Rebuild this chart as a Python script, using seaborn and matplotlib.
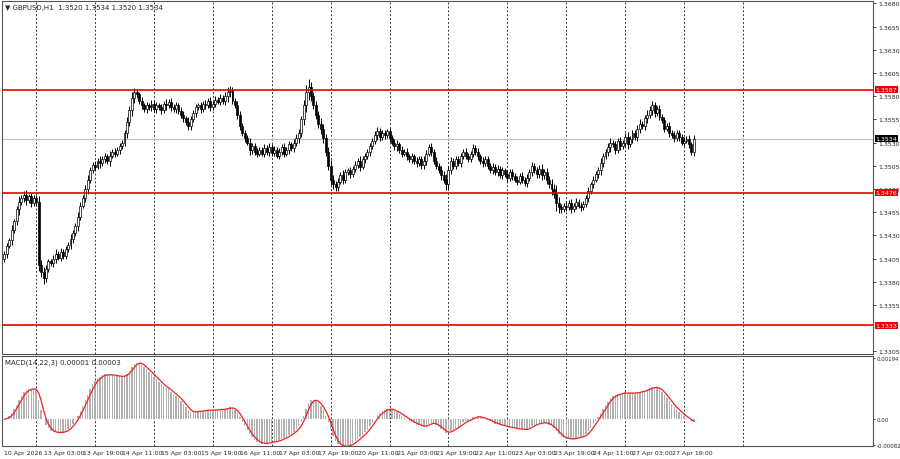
import numpy as np
import pandas as pd
import matplotlib
matplotlib.use("Agg")
import matplotlib.pyplot as plt
import seaborn as sns

sns.set_style("white")
plt.rcParams['font.family'] = ['DejaVu Sans']

# closes in pips (1.xxxx), hourly bars from 10 Apr 2026 11:00
closes = [3410,3418,3425,3436,3445,3458,3466,3470,3474,3468,3472,3465,3470,3466,
          3398,3390,3384,3394,3402,
          3400,3405,3410,3406,3412,3408,3415,3420,3426,
          3432,3440,3450,3462,3470,3480,3490,3500,
          3506,3504,3510,3508,3512,3515,3510,3516,3520,3518,3522,3526,3530,
          3540,3552,3565,3578,3584,3582,3575,3570,
          3566,3570,3568,3572,3566,3570,3568,3565,3572,3570,3574,3568,3566,3570,3564,3560,
          3556,3552,3548,3555,3562,3568,3570,3566,
          3572,3570,3575,3568,3572,3576,3574,3578,3575,3580,3584,
          3586,3575,3570,3560,3548,3540,3535,3530,3522,3526,3520,3518,3522,
          3518,3524,3520,3525,3519,3522,3516,3520,3525,3518,3522,3528,3524,3530,
          3535,3540,3555,3570,3585,3590,3580,3570,
          3560,3550,3545,3535,3520,3505,3490,3485,3482,
          3488,3495,3490,3498,3500,3496,3502,3506,3510,3504,3512,3515,3520,3526,3532,
          3538,3542,3536,3540,3538,3542,3535,3530,3526,3528,3522,3518,3520,3515,
          3512,3515,3510,3508,3512,3506,3510,3518,3525,3520,3510,3505,3500,3495,
          3490,3485,3500,3510,3505,3512,3508,3515,3520,3516,3512,
          3518,3524,3520,3515,3510,3508,3512,3505,3500,3504,3498,3502,3495,3500,
          3496,3492,3498,3494,3490,3488,3494,3490,3486,3492,3498,3505,3500,3496,
          3502,3495,3498,3490,3485,3480,3475,3465,3460,
          3458,3462,3460,3465,3458,3462,3466,3462,3460,3464,3470,
          3478,3485,3490,3496,3500,3508,3515,3520,3525,3530,3528,3522,3532,
          3526,3530,3536,3528,3534,3540,3536,3545,3550,3548,3556,3560,
          3565,3570,3562,3566,3558,3554,3545,3548,
          3540,3538,3535,3540,3536,3530,3532,3534,3528,3520,3534]
# wick sizes in pips
wicks = [3,4,2,5,3,4,6,3,4,5,3,4,3,4, 6,5,6,4,3, 3,4,5,3,4,3,4,3,5,
         4,3,5,4,3,4,5,4, 3,4,3,5,3,4,3,5,3,4,3,4,3, 4,5,4,6,5,4,3,4,
         3,4,3,4,3,4,3,4,3,5,3,4,3,4,3,4, 4,3,5,4,3,4,3,4,
         3,4,3,4,3,4,3,4,3,5,6, 5,4,3,5,4,3,4,3,5,4,3,4,3,
         3,4,3,4,3,4,3,4,3,4,3,4,3,4, 4,5,4,6,7,9,5,4,
         5,4,6,5,4,5,6,5,4, 4,3,5,4,3,4,3,4,3,5,3,4,3,4,3,
         4,5,4,3,4,3,4,3,4,5,3,4,3,4, 3,4,3,4,3,4,5,4,3,4,3,4,3,5,
         4,6,5,4,3,4,3,4,3,4,3, 3,4,3,4,3,4,3,4,3,4,3,4,3,4,
         3,4,3,4,3,4,3,4,3,4,3,4,3,4, 4,5,4,5,4,6,5,9,6,
         4,3,4,3,4,3,4,3,4,3,4, 4,3,4,3,4,5,4,3,4,5,3,4,3,
         4,3,4,5,3,4,3,4,5,3,4,5, 4,5,4,3,4,3,4,3, 4,3,4,3,4,3,4,3,4,3,4]
levels = [1.3587, 1.3476, 1.3333]
last_price = 1.3534
price_ticks = [1.3305,1.3355,1.3380,1.3405,1.3430,1.3455,1.3480,1.3505,
               1.3530,1.3555,1.3580,1.3605,1.3630,1.3655,1.3680]

c = 1.0 + np.array(closes) / 10000.0
o = np.concatenate([[c[0] - 0.0006], c[:-1]])
w = np.array(wicks) / 10000.0
h = np.maximum(o, c) + w
l = np.minimum(o, c) - w
n = len(c)
x = np.arange(n)

times = list(pd.date_range("2026-04-10 11:00", periods=13, freq="h"))
times += list(pd.date_range("2026-04-13 00:00", periods=120, freq="h"))
times += list(pd.date_range("2026-04-20 00:00", periods=120, freq="h"))
times += list(pd.date_range("2026-04-27 00:00", periods=60, freq="h"))

fig = plt.figure(figsize=(9, 4.6), dpi=100)
W = 0.968
ax = fig.add_axes([0.002, 0.228, W, 0.767])
ax2 = fig.add_axes([0.002, 0.028, W, 0.196])
day_starts = [i for i, t in enumerate(times) if t.hour == 0]
for a in (ax, ax2):
    a.set_xlim(-1, 354)
    for s in a.spines.values():
        s.set_color("#555555"); s.set_linewidth(0.8)
    for d in day_starts:
        a.axvline(d, color="#333333", ls=(0, (2, 2)), lw=0.7, zorder=0)

up = c >= o
ax.vlines(x, l, h, color="black", lw=0.7, zorder=2)
ax.bar(x[up], (c - o)[up], bottom=o[up], width=0.8, color="white", edgecolor="black", linewidth=0.5, zorder=3)
ax.bar(x[~up], (o - c)[~up], bottom=c[~up], width=0.8, color="black", edgecolor="black", linewidth=0.5, zorder=3)
ax.set_ylim(1.3302, 1.36822)
for lv in levels:
    ax.axhline(lv, color="#ee0000", lw=1.2, zorder=4)
ax.axhline(last_price, color="#c0c0c0", lw=0.8, zorder=1)
ax.yaxis.tick_right()
ax.set_yticks(price_ticks)
ax.set_yticklabels([f"{p:.4f}" for p in price_ticks], fontsize=4.5)
ax.tick_params(axis="y", length=2, pad=1.5, width=0.6)
ax.set_xticks([])
for lv in levels:
    ax.text(1.003, lv, f"{lv:.4f}", transform=ax.get_yaxis_transform(), fontsize=4.5, color="white",
            va="center", ha="left", bbox=dict(boxstyle="square,pad=0.15", fc="#ee0000", ec="none"), zorder=10, clip_on=False)
ax.text(1.003, last_price, f"{last_price:.4f}", transform=ax.get_yaxis_transform(), fontsize=4.5, color="white",
        va="center", ha="left", bbox=dict(boxstyle="square,pad=0.15", fc="black", ec="none"), zorder=10, clip_on=False)
ax.text(0.004, 0.993, "▼ GBPUSD,H1  1.3520 1.3534 1.3520 1.3534", transform=ax.transAxes, fontsize=5, va="top", ha="left")

s = pd.Series(c)
macd = s.ewm(span=14, adjust=False).mean() - s.ewm(span=22, adjust=False).mean()
sig = macd.rolling(3, min_periods=1).mean()
ax2.bar(x, macd.values, width=0.55, color="#b0b0b0", linewidth=0, zorder=2)
sns.lineplot(x=x, y=sig.values, ax=ax2, color="#ee2222", lw=0.9, zorder=3)
ax2.set_ylim(-0.00085, 0.00200)
ax2.yaxis.tick_right()
ax2.set_yticks([0.00194, 0.0, -0.00082])
ax2.set_yticklabels(["0.00194", "0.00", "-0.00082"], fontsize=3.9)
ax2.tick_params(axis="y", length=1.5, pad=1, width=0.6)
ax2.text(0.004, 0.97, "MACD(14,22,3) 0.00001 0.00003", transform=ax2.transAxes, fontsize=5, va="top", ha="left")
ax2.set_ylabel(""); ax2.set_xlabel("")
tick_pos = list(range(0, n, 16))
labels = ["10 Apr 2026" if i == 0 else f"{times[i].day} Apr {times[i].hour:02d}:00" for i in tick_pos]
ax2.set_xticks(tick_pos)
ax2.set_xticklabels(labels, fontsize=4.5, ha="left")
ax2.tick_params(axis="x", length=2, pad=1, width=0.6)

fig.savefig("out.png", dpi=100)
